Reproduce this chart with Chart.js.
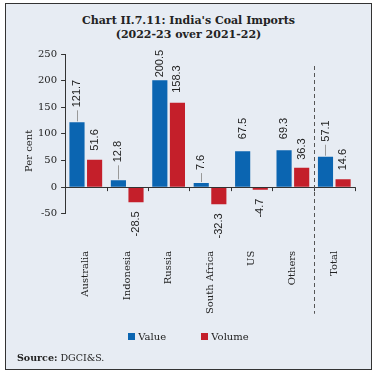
<!DOCTYPE html>
<html>
<head>
<meta charset="utf-8">
<script src="https://cdn.jsdelivr.net/npm/chart.js@4.4.0/dist/chart.umd.min.js"></script>
<style>
  body { margin: 0; background: #fff; }
  .frame {
    position: absolute; left: 5px; top: 3px; width: 365px; height: 365px;
    border: 1px solid #333; background: #e7ecf3;
    font-family: "DejaVu Serif", serif; color: #222;
  }
  .title {
    position: absolute; left: 0; right: 0; top: 10px;
    text-align: center; font-weight: bold; font-size: 11px; line-height: 14px;
  }
  .chart-box { position: absolute; left: -6px; top: 37px; width: 377px; height: 302px; }
  .legend {
    position: absolute; top: 327px; left: 0; right: 0; text-align: center;
    font-size: 10px; line-height: 12px;
  }
  .legend span { display: inline-block; }
  .legend i { display: inline-block; width: 7px; height: 7px; margin-right: 3px; vertical-align: 0px; }
  .source { position: absolute; left: 11px; top: 348px; font-size: 9.5px; }
</style>
</head>
<body>
<div class="frame">
  <div class="title">Chart II.7.11: India's Coal Imports<br>(2022-23 over 2021-22)</div>
  <div class="chart-box"><canvas id="coalChart"></canvas></div>
  <div class="legend">
    <span><i style="background:#0b65b1"></i>Value</span>
    <span style="margin-left:32px"><i style="background:#c41f2a"></i>Volume</span>
  </div>
  <div class="source"><b>Source:</b> DGCI&amp;S.</div>
</div>
<script>
const categories = ['Australia', 'Indonesia', 'Russia', 'South Africa', 'US', 'Others', 'Total'];
const valueGrowth = [121.7, 12.8, 200.5, 7.6, 67.5, 69.3, 57.1];
const volumeGrowth = [51.6, -28.5, 158.3, -32.3, -4.7, 36.3, 14.6];
const yTicks = [-50, 0, 50, 100, 150, 200, 250];

// label gaps above/below bars, per dataset; leader lines on some value labels
const labelGaps = [[15, 18, 3, 13, 12, 11, 15], [9, 9, 10, 9, 9, 8, 9]];
const leaders = [[true, true, false, true, false, false, true], []];

const decorations = {
    id: 'decorations',
    afterDatasetsDraw(chart) {
        const ctx = chart.ctx;
        const area = chart.chartArea;
        const x = chart.scales.x;
        const y = chart.scales.y;
        const y0 = y.getPixelForValue(0);
        ctx.save();
        // zero line with category ticks
        ctx.strokeStyle = '#333';
        ctx.lineWidth = 1;
        ctx.beginPath();
        ctx.moveTo(area.left, Math.round(y0) + 0.5);
        ctx.lineTo(area.right, Math.round(y0) + 0.5);
        for (let i = 1; i <= categories.length; i++) {
            const bx = Math.round(x.getPixelForValue(i - 0.5)) + 0.5;
            ctx.moveTo(bx, y0);
            ctx.lineTo(bx, y0 + 4);
        }
        ctx.stroke();
        // dashed separator before Total
        const sx = Math.round(x.getPixelForValue(categories.length - 1.5)) + 0.5;
        ctx.strokeStyle = '#555';
        ctx.setLineDash([4, 3]);
        ctx.beginPath();
        ctx.moveTo(sx, area.top + 12);
        ctx.lineTo(sx, area.bottom + 100);
        ctx.stroke();
        ctx.setLineDash([]);
        // value labels
        ctx.font = '11px "Liberation Sans", Arial, sans-serif';
        ctx.fillStyle = '#222';
        ctx.textBaseline = 'middle';
        chart.data.datasets.forEach((ds, d) => {
            chart.getDatasetMeta(d).data.forEach((bar, i) => {
                const v = ds.data[i];
                const gap = labelGaps[d][i];
                const text = v.toFixed(1);
                if (v >= 0) {
                    if (leaders[d][i]) {
                        ctx.strokeStyle = '#999';
                        ctx.beginPath();
                        ctx.moveTo(Math.round(bar.x) + 0.5, bar.y - 1);
                        ctx.lineTo(Math.round(bar.x) + 0.5, bar.y - gap + 3);
                        ctx.stroke();
                    }
                    ctx.save();
                    ctx.translate(bar.x, bar.y - gap);
                    ctx.rotate(-Math.PI / 2);
                    ctx.textAlign = 'left';
                    ctx.fillText(text, 0, 0);
                    ctx.restore();
                } else {
                    ctx.save();
                    ctx.translate(bar.x, bar.y + gap);
                    ctx.rotate(-Math.PI / 2);
                    ctx.textAlign = 'right';
                    ctx.fillText(text, 0, 0);
                    ctx.restore();
                }
            });
        });
        // y axis title
        ctx.font = '10px "DejaVu Serif", serif';
        ctx.save();
        ctx.translate(area.left - 36, (area.top + area.bottom) / 2 + 17);
        ctx.rotate(-Math.PI / 2);
        ctx.textAlign = 'center';
        ctx.fillText('Per cent', 0, 0);
        ctx.restore();
        ctx.restore();
    }
};

const ctx = document.getElementById('coalChart').getContext('2d');
const coalChart = new Chart(ctx, {
    type: 'bar',
    data: {
        labels: categories,
        datasets: [{
            label: 'Value',
            data: valueGrowth,
            backgroundColor: '#0b65b1'
        }, {
            label: 'Volume',
            data: volumeGrowth,
            backgroundColor: '#c41f2a'
        }]
    },
    options: {
        responsive: true,
        maintainAspectRatio: false,
        animation: false,
        categoryPercentage: 0.85,
        barPercentage: 0.86,
        layout: { padding: { left: 34, right: 22, top: 13, bottom: 0 } },
        plugins: {
            legend: { display: false },
            tooltip: { enabled: false }
        },
        scales: {
            x: {
                border: { display: false },
                grid: { display: false },
                ticks: {
                    minRotation: 90,
                    maxRotation: 90,
                    padding: 29,
                    color: '#222',
                    font: { family: '"DejaVu Serif", serif', size: 10 }
                }
            },
            y: {
                min: -50,
                max: 250,
                afterBuildTicks: (axis) => { axis.ticks = yTicks.map(v => ({ value: v })); },
                border: { display: true, color: '#333' },
                grid: { drawOnChartArea: false, tickLength: 4, color: '#333' },
                ticks: {
                    padding: 4,
                    color: '#222',
                    font: { family: '"DejaVu Serif", serif', size: 10 }
                }
            }
        }
    },
    plugins: [decorations]
});
</script>
</body>
</html>
